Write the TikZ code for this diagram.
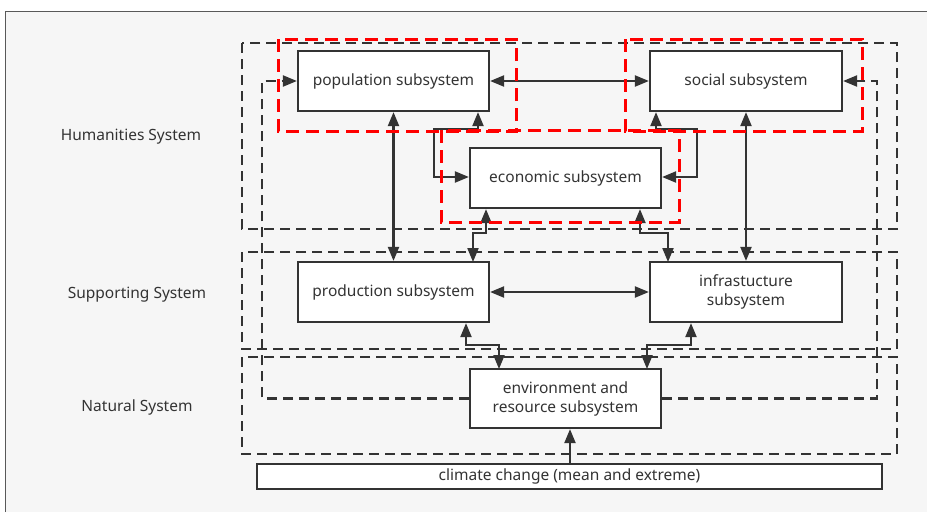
\documentclass[tikz,border=0pt]{standalone}
\usepackage{fontspec}
\setmainfont{Noto Sans}
\usetikzlibrary{arrows.meta}
\definecolor{ink}{HTML}{333333}
\definecolor{bg}{HTML}{F6F6F6}
\tikzset{
  sbox/.style={draw=ink, line width=2.2pt, fill=white, text=ink, align=center,
    font=\fontsize{15.5}{19}\selectfont, inner sep=0pt},
  lbl/.style={text=ink, font=\fontsize{15.5}{19}\selectfont},
  conn/.style={draw=ink, line width=2.1pt},
  tip/.style={-{Triangle[length=14pt,width=11pt]}},
  dtip/.style={{Triangle[length=14pt,width=11pt]}-{Triangle[length=14pt,width=11pt]}},
  sysbox/.style={draw=ink, line width=2.1pt, dash pattern=on 10pt off 6pt},
  redbox/.style={draw=red, line width=3pt, dash pattern=on 13pt off 7pt},
  loopline/.style={draw=ink, line width=2.1pt, dash pattern=on 10pt off 6pt},
}
\begin{document}
\begin{tikzpicture}[x=1pt,y=-1pt]
\useasboundingbox (0,0) rectangle (927,512);
\fill[white] (0,0) rectangle (927,512);
\fill[bg] (5,11) rectangle (927,512);
\draw[gray!70!black, line width=1pt] (5,512) -- (5,11) -- (927,11);

% system frames
\draw[sysbox] (242,43) rectangle (897,229);
\draw[sysbox] (242,252) rectangle (897,349);
\draw[sysbox] (242,357) rectangle (897,454);

% labels
\node[lbl] (hum) at (131,137) {Humanities System};
\node[lbl] (sup) at (137,295) {Supporting System};
\node[lbl] (nat) at (137,407) {Natural System};

% bend coordinates
\coordinate (lp) at (262,81);
\coordinate (rp) at (877,81);
\coordinate (a1) at (478,129);
\coordinate (a2) at (434,177);
\coordinate (b1) at (656,129);
\coordinate (b2) at (697,177);
\coordinate (c1) at (486,233);
\coordinate (c2) at (473,262);
\coordinate (d1) at (640,233);
\coordinate (d2) at (668,262);
\coordinate (e1) at (466,345);
\coordinate (e2) at (499,369);
\coordinate (f1) at (691,345);
\coordinate (f2) at (647,369);
\coordinate (g1) at (570,400);

% nodes
\node[sbox, minimum width=191pt, minimum height=60pt] (pop) at (393.5,81) {population subsystem};
\node[sbox, minimum width=192pt, minimum height=60pt] (soc) at (746,81) {social subsystem};
\node[sbox, minimum width=191pt, minimum height=60pt] (eco) at (565.5,178) {economic subsystem};
\node[sbox, minimum width=191pt, minimum height=60pt] (prod) at (393.5,292) {production subsystem};
\node[sbox, minimum width=192pt, minimum height=60pt] (infra) at (746,292) {infrastucture\\subsystem};
\node[sbox, minimum width=191pt, minimum height=59pt] (env) at (565.5,398.5) {environment and\\resource subsystem};
\node[sbox, minimum width=625pt, minimum height=25pt, line width=2pt] (clim) at (569.5,476.5) {climate change (mean and extreme)};

% feedback dashed loops
\draw[loopline, tip] (env.west) -| (lp) -- (pop.west);
\draw[loopline, tip] (env.east) -| (rp) -- (soc.east);

% solid connectors
\draw[conn, dtip] (pop.east) -- (soc.west);
\draw[conn, dtip] (pop.south) -- (prod.north);
\draw[conn, dtip] (soc.south) -- (infra.north);
\draw[conn, dtip] (pop.south -| a1) -- (a1) -| (a2) -- (eco.west |- a2);
\draw[conn, dtip] (soc.south -| b1) -- (b1) -| (b2) -- (eco.east |- b2);
\draw[conn, dtip] (eco.south -| c1) -- (c1) -| (c2);
\draw[conn, dtip] (eco.south -| d1) -- (d1) -| (d2);
\draw[conn, dtip] (prod.east |- infra.west) -- (infra.west);
\draw[conn, dtip] (prod.south -| e1) -- (e1) -| (e2);
\draw[conn, dtip] (infra.south -| f1) -- (f1) -| (f2);
\draw[conn, tip] (clim.north -| g1) -- (env.south -| g1);

% red highlight frames
\draw[redbox] (278,39) rectangle (516,131);
\draw[redbox] (625,39) rectangle (862,131);
\draw[redbox] (441,130) rectangle (679,222);
\end{tikzpicture}
\end{document}
